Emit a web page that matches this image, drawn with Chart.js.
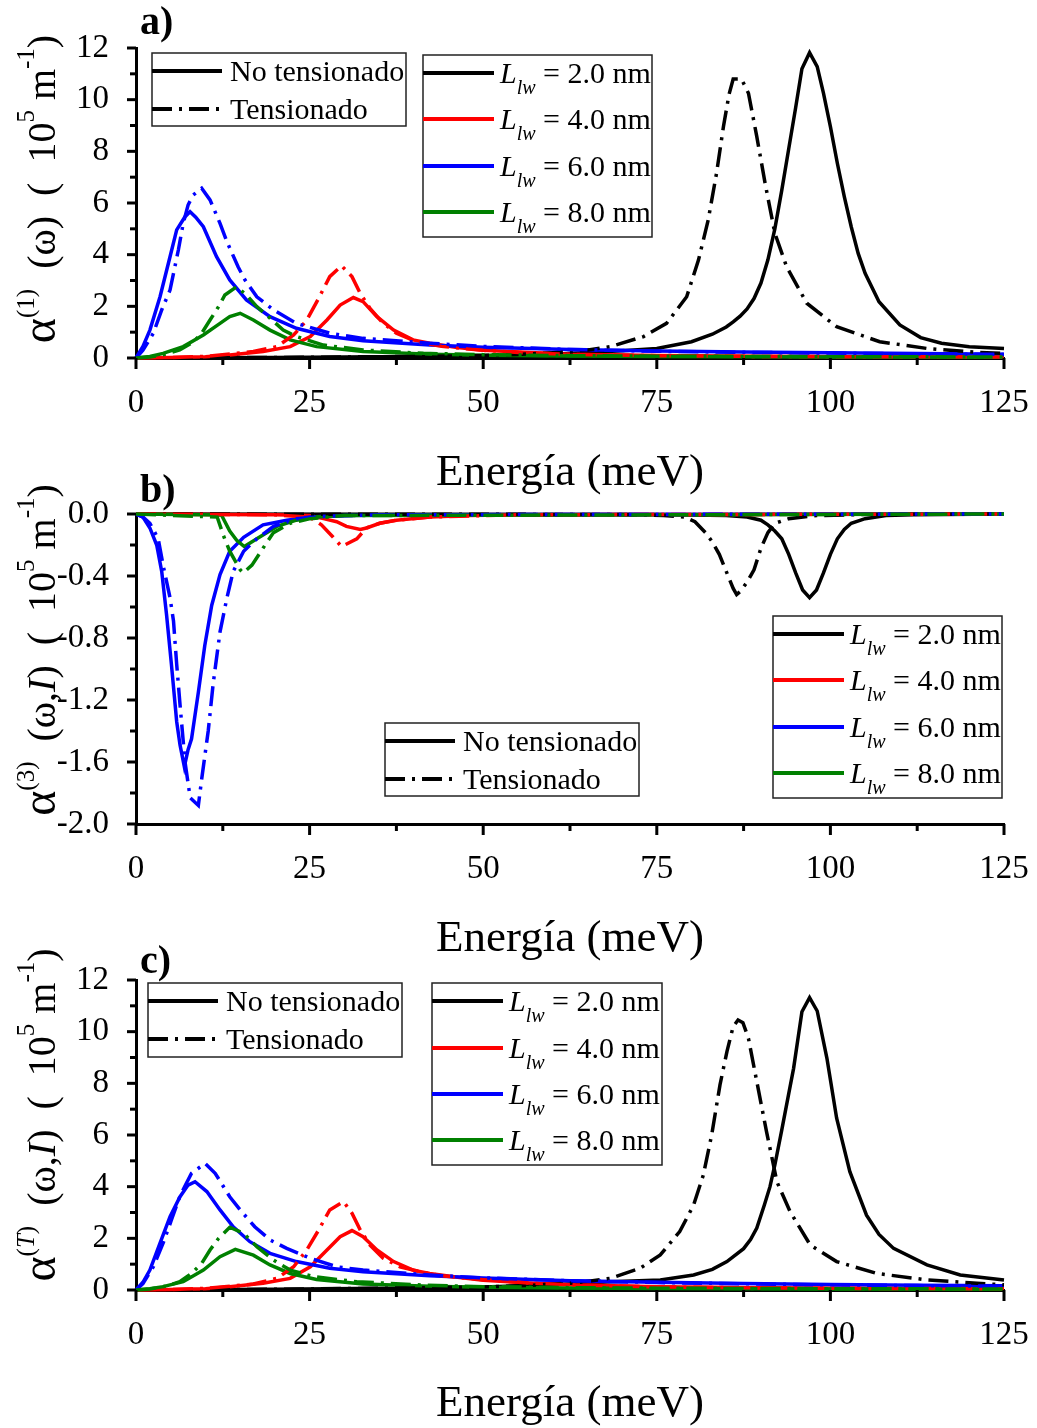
<!DOCTYPE html>
<html>
<head>
<meta charset="utf-8">
<script src="https://cdn.jsdelivr.net/npm/chart.js@4.4.1/dist/chart.umd.min.js"></script>
<style>
  body { margin: 0; background: #fff; }
  #wrap { position: relative; width: 1037px; height: 1428px; }
  canvas { position: absolute; left: 0; }
</style>
</head>
<body>
<div id="wrap">
  <canvas id="pa" width="1037" height="500" style="top:0px"></canvas>
  <canvas id="pb" width="1037" height="505" style="top:460px"></canvas>
  <canvas id="pc" width="1037" height="503" style="top:925px"></canvas>
</div>
<script>
// ---- data (energy in meV, alpha in 10^5 m^-1) ----
const SIZES = ['2.0', '4.0', '6.0', '8.0'];
const STYLE_LABELS = ['No tensionado', 'Tensionado'];
const X_MAJOR = [0, 25, 50, 75, 100, 125];
const X_MINOR = [12.5, 37.5, 62.5, 87.5, 112.5];
const Y_MAJOR_AC = [0, 2, 4, 6, 8, 10, 12];
const Y_MINOR_AC = [1, 3, 5, 7, 9, 11];
const Y_MAJOR_B = [0, -0.4, -0.8, -1.2, -1.6, -2.0];
const Y_MINOR_B = [-0.2, -0.6, -1.0, -1.4, -1.8];

// a) alpha(1)
const A_BLACK_SOLID_E = [0, 20, 40, 50, 60, 65, 70, 75, 80, 83, 85, 86, 87, 88, 89, 90, 91, 92, 93, 94, 95, 95.9, 97, 98.1, 99, 100, 101, 102, 103, 104, 105, 107, 110, 113, 116, 120, 125];
const A_BLACK_SOLID = [0, 0.02, 0.06, 0.09, 0.15, 0.21, 0.28, 0.37, 0.63, 0.92, 1.2, 1.4, 1.62, 1.9, 2.3, 2.9, 3.8, 5.0, 6.5, 8.1, 9.7, 11.2, 11.82, 11.28, 10.25, 8.96, 7.54, 6.25, 5.08, 4.05, 3.28, 2.18, 1.28, 0.79, 0.57, 0.44, 0.37];
const A_BLACK_DASH_E = [0, 20, 40, 50, 55, 60, 63.5, 68.3, 73.1, 76.4, 79.3, 81, 82.4, 83.6, 84.6, 85.4, 86, 87.2, 88.2, 89.4, 90.6, 92, 93.7, 96.6, 100.9, 107.1, 113.9, 121.1, 125];
const A_BLACK_DASH = [0, 0.02, 0.06, 0.1, 0.14, 0.2, 0.25, 0.44, 0.83, 1.34, 2.37, 3.79, 5.34, 7.15, 8.96, 10.2, 10.8, 10.8, 10.25, 8.57, 6.76, 4.83, 3.53, 2.12, 1.21, 0.63, 0.37, 0.22, 0.18];
const A_RED_SOLID_E = [0, 5, 10, 13.5, 18.3, 22.2, 25.1, 27.5, 29.4, 31.3, 32.7, 34.7, 37.1, 39.9, 42.3, 46, 50, 56, 62.5, 75, 90, 105, 125];
const A_RED_SOLID = [0, 0.02, 0.05, 0.12, 0.25, 0.44, 0.83, 1.47, 2.05, 2.34, 2.18, 1.6, 1.08, 0.7, 0.57, 0.42, 0.3, 0.22, 0.15, 0.1, 0.07, 0.05, 0.04];
const A_RED_DASH_E = [0, 5, 10, 16.9, 20.3, 22.7, 24.6, 26.3, 27.9, 29.6, 31.1, 32.3, 33.7, 35.6, 37.5, 40.4, 44, 50, 56, 62.5, 75, 90, 105, 125];
const A_RED_DASH = [0, 0.02, 0.06, 0.25, 0.44, 0.89, 1.47, 2.31, 3.15, 3.57, 3.15, 2.5, 1.92, 1.34, 0.96, 0.63, 0.45, 0.3, 0.2, 0.14, 0.09, 0.06, 0.05, 0.04];
const A_BLUE_SOLID_E = [0, 1, 2, 3.46, 4.9, 5.86, 7.06, 7.78, 8.6, 9.7, 11.6, 13.5, 15.9, 19.3, 23.1, 27.9, 32.7, 42.3, 50, 62.5, 75, 87.5, 100, 112.5, 125];
const A_BLUE_SOLID = [0, 0.45, 1.08, 2.37, 3.92, 4.96, 5.47, 5.66, 5.45, 5.08, 3.92, 3.02, 2.25, 1.6, 1.15, 0.83, 0.67, 0.5, 0.42, 0.33, 0.27, 0.23, 0.2, 0.17, 0.15];
const A_BLUE_DASH_E = [0, 1, 2.5, 3.7, 4.9, 6.1, 6.8, 7.5, 8.2, 9.46, 10.66, 12.1, 13.1, 14.7, 15.7, 17.4, 19.8, 23.1, 27.9, 32.7, 42.3, 50, 62.5, 75, 87.5, 100, 112.5, 125];
const A_BLUE_DASH = [0, 0.3, 0.96, 1.86, 2.63, 4.18, 5.21, 5.92, 6.3, 6.57, 6.12, 5.21, 4.5, 3.53, 3.02, 2.37, 1.86, 1.34, 0.96, 0.76, 0.57, 0.45, 0.33, 0.26, 0.22, 0.19, 0.16, 0.14];
const A_GREEN_SOLID_E = [0, 2, 3.9, 6.8, 9.7, 12.1, 13.5, 15, 16.9, 19.3, 22.2, 26, 32.7, 42.3, 50, 62.5, 75, 100, 125];
const A_GREEN_SOLID = [0, 0.06, 0.18, 0.44, 0.89, 1.34, 1.6, 1.73, 1.47, 1.08, 0.7, 0.44, 0.25, 0.15, 0.11, 0.08, 0.06, 0.04, 0.03];
const A_GREEN_DASH_E = [0, 2, 4.3, 6.3, 8.3, 9.46, 10.66, 11.9, 12.8, 14.5, 15.9, 17.4, 19.3, 21.2, 23.1, 27, 32.7, 41.4, 50, 62.5, 75, 100, 125];
const A_GREEN_DASH = [0, 0.04, 0.15, 0.31, 0.63, 0.96, 1.47, 1.99, 2.44, 2.76, 2.44, 1.99, 1.54, 1.08, 0.83, 0.5, 0.31, 0.18, 0.13, 0.09, 0.07, 0.05, 0.04];

// b) alpha(3)
const B_BLACK_SOLID_E = [0, 75, 85, 88, 90, 91, 92, 93, 94, 95, 96, 97, 98, 99, 100, 101, 102, 103, 105, 108, 112, 125];
const B_BLACK_SOLID = [0, -0.003, -0.01, -0.02, -0.04, -0.07, -0.11, -0.16, -0.26, -0.38, -0.49, -0.54, -0.49, -0.38, -0.26, -0.16, -0.1, -0.06, -0.03, -0.01, -0.005, 0];
const B_BLACK_DASH_E = [0, 70, 76, 79, 80.5, 82, 83, 84, 85, 86, 86.5, 87, 88, 89, 90, 91, 92, 94, 98, 105, 125];
const B_BLACK_DASH = [0, -0.003, -0.01, -0.02, -0.05, -0.12, -0.18, -0.26, -0.37, -0.48, -0.52, -0.5, -0.44, -0.36, -0.22, -0.12, -0.06, -0.03, -0.01, -0.003, 0];
const B_RED_SOLID_E = [0, 10, 20, 25, 27, 28.9, 30.3, 32.3, 33.2, 35.1, 37.5, 42.3, 48, 55, 125];
const B_RED_SOLID = [0, -0.003, -0.005, -0.01, -0.03, -0.05, -0.08, -0.1, -0.09, -0.06, -0.04, -0.02, -0.01, -0.005, 0];
const B_RED_DASH_E = [0, 20, 25, 26.7, 28.4, 29.6, 31.8, 33.2, 35.1, 37.5, 42.3, 55, 125];
const B_RED_DASH = [0, -0.005, -0.02, -0.07, -0.15, -0.21, -0.16, -0.09, -0.06, -0.04, -0.02, -0.005, 0];
const B_BLUE_SOLID_E = [0, 1, 2, 2.98, 3.7, 4.4, 5.1, 5.86, 6.34, 6.96, 7.5, 8, 8.98, 9.9, 10.9, 12.1, 13.5, 15.5, 18.3, 21.7, 25.1, 30, 40, 125];
const B_BLUE_SOLID = [0, -0.02, -0.09, -0.2, -0.37, -0.65, -0.97, -1.34, -1.49, -1.63, -1.52, -1.45, -1.15, -0.85, -0.59, -0.39, -0.24, -0.15, -0.07, -0.04, -0.02, -0.01, -0.005, 0];
const B_BLUE_DASH_E = [0, 1, 2, 3.2, 3.9, 4.9, 5.4, 5.86, 6.34, 7.06, 7.8, 8.98, 9.46, 10.4, 11.1, 12.1, 13.1, 14, 15.5, 17.4, 19.8, 23.1, 27, 35, 125];
const B_BLUE_DASH = [0, -0.02, -0.06, -0.16, -0.33, -0.54, -0.69, -0.97, -1.23, -1.6, -1.83, -1.88, -1.71, -1.4, -1.1, -0.76, -0.54, -0.37, -0.24, -0.16, -0.08, -0.03, -0.015, -0.005, 0];
const B_GREEN_SOLID_E = [0, 12.3, 13.5, 14.5, 15.6, 17.4, 20.3, 23.1, 25.6, 30, 125];
const B_GREEN_SOLID = [0, -0.006, -0.11, -0.17, -0.21, -0.16, -0.08, -0.04, -0.02, -0.01, 0];
const B_GREEN_DASH_E = [0, 11.7, 12.6, 13.5, 15, 15.45, 16.7, 18.3, 19.8, 22.2, 25.1, 30, 125];
const B_GREEN_DASH = [0, -0.02, -0.14, -0.24, -0.36, -0.38, -0.33, -0.22, -0.12, -0.06, -0.03, -0.01, 0];

// c) alpha(T)
const C_BLACK_SOLID_E = [0, 20, 40, 50, 60, 68.3, 75.5, 80.3, 83, 85.1, 87.5, 88.5, 89.4, 90.5, 91.3, 92, 93, 94, 94.7, 95.9, 97, 98.1, 99.5, 100.9, 102.8, 105.2, 107, 109.1, 113.9, 118.7, 125];
const C_BLACK_SOLID = [0, 0.03, 0.08, 0.12, 0.2, 0.32, 0.39, 0.58, 0.8, 1.1, 1.6, 1.95, 2.4, 3.3, 4.0, 4.84, 6.2, 7.6, 8.58, 10.77, 11.32, 10.8, 8.97, 6.65, 4.58, 2.9, 2.15, 1.61, 0.97, 0.58, 0.39];
const C_BLACK_DASH_E = [0, 20, 40, 50, 56, 63.5, 68.3, 72.6, 75.5, 78.3, 80.3, 81.7, 82.9, 84.1, 85.1, 86, 86.7, 87.4, 88.2, 89.4, 90.8, 92.3, 94.2, 97.1, 100.9, 106.7, 113.9, 121.1, 125];
const C_BLACK_DASH = [0, 0.03, 0.08, 0.12, 0.17, 0.28, 0.45, 0.84, 1.36, 2.26, 3.29, 4.45, 6, 7.94, 9.23, 10.2, 10.45, 10.35, 9.74, 8.07, 6.13, 4.19, 3.03, 1.74, 1.1, 0.64, 0.39, 0.26, 0.2];
const C_RED_SOLID_E = [0, 5, 10, 13.5, 18.3, 22.2, 25.1, 27.5, 29.4, 31.1, 32.7, 34.7, 37.1, 39.9, 42.3, 46, 50, 56, 62.5, 75, 90, 105, 125];
const C_RED_SOLID = [0, 0.02, 0.05, 0.13, 0.26, 0.45, 0.9, 1.55, 2.06, 2.3, 2.06, 1.55, 1.1, 0.77, 0.64, 0.5, 0.38, 0.28, 0.2, 0.13, 0.09, 0.07, 0.05];
const C_RED_DASH_E = [0, 5, 10, 16.9, 20.3, 22.7, 24.6, 26.3, 27.9, 29.9, 31.1, 32.3, 33.7, 35.6, 38, 40.9, 44, 50, 56, 62.5, 75, 90, 105, 125];
const C_RED_DASH = [0, 0.02, 0.06, 0.23, 0.45, 0.9, 1.55, 2.32, 3.1, 3.42, 2.97, 2.32, 1.74, 1.23, 0.9, 0.71, 0.55, 0.4, 0.28, 0.2, 0.12, 0.08, 0.06, 0.05];
const C_BLUE_SOLID_E = [0, 1, 2, 3.46, 4.9, 6.34, 7.5, 8.5, 10.2, 12.1, 14, 16.4, 19.3, 23.1, 27.9, 32.7, 42.3, 50, 62.5, 75, 87.5, 100, 112.5, 125];
const C_BLUE_SOLID = [0, 0.3, 0.77, 1.81, 2.84, 3.61, 4.06, 4.19, 3.81, 3.1, 2.45, 1.87, 1.42, 1.1, 0.84, 0.71, 0.55, 0.46, 0.36, 0.3, 0.25, 0.21, 0.18, 0.16];
const C_BLUE_DASH_E = [0, 1, 2.5, 3.9, 5.1, 6.3, 7, 8, 9.94, 11.4, 13.5, 15, 17.1, 19.3, 21.7, 25.1, 28.9, 32.7, 42.3, 50, 62.5, 75, 87.5, 100, 112.5, 125];
const C_BLUE_DASH = [0, 0.25, 0.9, 1.81, 2.71, 3.61, 4, 4.52, 4.9, 4.52, 3.61, 3.1, 2.45, 1.94, 1.61, 1.23, 0.9, 0.77, 0.58, 0.47, 0.36, 0.29, 0.24, 0.2, 0.17, 0.15];
const C_GREEN_SOLID_E = [0, 2, 3.9, 6.8, 9.7, 12.1, 14.3, 16.9, 19.3, 22.2, 26, 32.7, 42.3, 50, 62.5, 75, 100, 125];
const C_GREEN_SOLID = [0, 0.05, 0.13, 0.32, 0.77, 1.29, 1.57, 1.35, 0.97, 0.64, 0.41, 0.23, 0.15, 0.11, 0.08, 0.06, 0.04, 0.03];
const C_GREEN_DASH_E = [0, 2, 4.3, 6.3, 8, 9.46, 10.66, 11.9, 13.5, 15.5, 17.4, 19.8, 22.2, 25.5, 31.8, 41.4, 50, 62.5, 75, 100, 125];
const C_GREEN_DASH = [0, 0.04, 0.15, 0.32, 0.64, 1.03, 1.55, 2, 2.43, 2.19, 1.68, 1.16, 0.77, 0.52, 0.32, 0.19, 0.13, 0.09, 0.07, 0.05, 0.04];

// ---- drawing ----
const SERIF = '"Liberation Serif", "Times New Roman", serif';
const COLORS = ['#000000', '#ff0000', '#0000ff', '#008000'];
const DASHDOT = [20, 7, 3, 7];

function font(size, style, weight) {
  return (style || 'normal') + ' ' + (weight || 'normal') + ' ' + size + 'px ' + SERIF;
}

function pts(xs, ys) {
  return xs.map((x, i) => ({ x: x, y: ys[i] }));
}

function richWidth(ctx, parts) {
  let w = 0;
  parts.forEach(p => { ctx.font = font(p.size, p.style); w += ctx.measureText(p.t).width; });
  return w;
}

function drawRich(ctx, parts, x, y) {
  parts.forEach(p => {
    ctx.font = font(p.size, p.style);
    ctx.fillText(p.t, x, y - (p.rise || 0));
    x += ctx.measureText(p.t).width;
  });
  return x;
}

function lwLabel(size) {
  return [
    { t: 'L', size: 30, style: 'italic' },
    { t: 'lw', size: 20, style: 'italic', rise: -11 },
    { t: ' = ' + size + ' nm', size: 30 }
  ];
}

const decor = {
  id: 'decor',
  afterDraw(chart) {
    const o = chart.config.options.plugins.decor;
    const ctx = chart.ctx;
    const xs = chart.scales.x, ys = chart.scales.y;
    const area = chart.chartArea;
    ctx.save();
    ctx.strokeStyle = '#000';
    ctx.lineWidth = 3;
    ctx.setLineDash([]);
    // tick marks, outward
    const tick = (vals, len, axis) => vals.forEach(v => {
      ctx.beginPath();
      if (axis === 'x') {
        const px = xs.getPixelForValue(v);
        ctx.moveTo(px, area.bottom); ctx.lineTo(px, area.bottom + len);
      } else {
        const py = ys.getPixelForValue(v);
        ctx.moveTo(area.left, py); ctx.lineTo(area.left - len, py);
      }
      ctx.stroke();
    });
    tick(X_MAJOR, 11, 'x');
    tick(X_MINOR, 7, 'x');
    tick(o.yMajor, 9, 'y');
    tick(o.yMinor, 6, 'y');

    ctx.fillStyle = '#000';
    ctx.textBaseline = 'alphabetic';
    // panel letter
    ctx.font = font(40, 'normal', 'bold');
    ctx.textAlign = 'left';
    ctx.fillText(o.letter, 140, o.letterY);
    // x title
    ctx.font = font(45);
    ctx.textAlign = 'center';
    ctx.fillText('Energía (meV)', (area.left + area.right) / 2, o.xTitleY);
    ctx.textAlign = 'left';
    // y title, rotated
    ctx.save();
    ctx.translate(55, o.yTitleC);
    ctx.rotate(-Math.PI / 2);
    const w = richWidth(ctx, o.yTitle);
    drawRich(ctx, o.yTitle, -w / 2, 0);
    ctx.restore();

    // legends
    ctx.lineWidth = 1.5;
    ctx.strokeStyle = '#222';
    const l1 = o.styleLegend, l2 = o.sizeLegend;
    ctx.strokeRect(l1.x, l1.y, l1.w, l1.h);
    ctx.strokeRect(l2.x, l2.y, l2.w, l2.h);
    ctx.lineWidth = 4;
    ctx.strokeStyle = '#000';
    STYLE_LABELS.forEach((lab, i) => {
      const y = l1.rows[i];
      ctx.setLineDash(i === 0 ? [] : DASHDOT);
      ctx.beginPath(); ctx.moveTo(l1.x, y); ctx.lineTo(l1.x + 70, y); ctx.stroke();
      ctx.setLineDash([]);
      ctx.font = font(30);
      ctx.fillText(lab, l1.x + 78, y + 10);
    });
    SIZES.forEach((s, i) => {
      const y = l2.rows[i];
      ctx.strokeStyle = COLORS[i];
      ctx.beginPath(); ctx.moveTo(l2.x, y); ctx.lineTo(l2.x + 71, y); ctx.stroke();
      drawRich(ctx, lwLabel(s), l2.x + 77, y + 10);
    });
    ctx.restore();
  }
};

function makePanel(id, cfg) {
  const canvas = document.getElementById(id);
  const H = canvas.height;
  const datasets = [];
  cfg.series.forEach(s => {
    datasets.push({
      data: pts(s[0], s[1]),
      borderColor: COLORS[s[2]],
      borderWidth: 3.5,
      borderDash: s[3] ? DASHDOT : [],
      pointRadius: 0,
      tension: 0,
      fill: false,
      clip: false,
      order: 100 - datasets.length
    });
  });
  return new Chart(canvas, {
    type: 'line',
    data: { datasets: datasets },
    plugins: [decor],
    options: {
      responsive: false,
      animation: false,
      events: [],
      layout: { padding: { top: cfg.top, right: 33, left: 0, bottom: 0 } },
      plugins: {
        legend: { display: false },
        tooltip: { enabled: false },
        decor: cfg.decor
      },
      scales: {
        x: {
          type: 'linear', min: 0, max: 125,
          grid: { display: false, drawTicks: false },
          border: { display: true, color: '#000', width: 3 },
          ticks: { stepSize: 25, color: '#000', font: { family: SERIF, size: 33 }, padding: 26, maxRotation: 0, autoSkip: false },
          afterFit: s => { s.height = H - cfg.bottom; s.paddingLeft = 0; s.paddingRight = 0; }
        },
        y: {
          type: 'linear', min: cfg.yMin, max: cfg.yMax,
          grid: { display: false, drawTicks: false },
          border: { display: true, color: '#000', width: 3 },
          ticks: { stepSize: cfg.yStep, color: '#000', font: { family: SERIF, size: 33 }, padding: 27, autoSkip: false, callback: cfg.yFmt },
          afterFit: s => { s.width = 136; s.paddingTop = 0; s.paddingBottom = 0; }
        }
      }
    }
  });
}

const SUP = 25, RISE = 21, TT = 40;
const alphaHead = sup => [{ t: 'α', size: 48 }].concat(sup);
const tail = [
  { t: '10', size: TT }, { t: '5', size: SUP, rise: RISE },
  { t: ' m', size: TT }, { t: '-1', size: SUP, rise: RISE }, { t: ')', size: TT }
];

makePanel('pa', {
  top: 48, bottom: 358, yMin: 0, yMax: 12, yStep: 2,
  yFmt: v => String(v),
  series: [
    [A_BLACK_SOLID_E, A_BLACK_SOLID, 0, false],
    [A_RED_SOLID_E, A_RED_SOLID, 1, false],
    [A_BLUE_SOLID_E, A_BLUE_SOLID, 2, false],
    [A_GREEN_SOLID_E, A_GREEN_SOLID, 3, false],
    [A_BLACK_DASH_E, A_BLACK_DASH, 0, true],
    [A_RED_DASH_E, A_RED_DASH, 1, true],
    [A_BLUE_DASH_E, A_BLUE_DASH, 2, true],
    [A_GREEN_DASH_E, A_GREEN_DASH, 3, true]
  ],
  decor: {
    letter: 'a)', letterY: 34, xTitleY: 485, yTitleC: 189,
    yMajor: Y_MAJOR_AC, yMinor: Y_MINOR_AC,
    yTitle: alphaHead([{ t: '(1)', size: SUP, rise: RISE }, { t: '  (ω)  (  ', size: TT }]).concat(tail),
    styleLegend: { x: 152, y: 53, w: 254, h: 73, rows: [71, 109] },
    sizeLegend: { x: 423, y: 55, w: 229, h: 182, rows: [73, 119, 166, 212] }
  }
});

makePanel('pb', {
  top: 54, bottom: 364, yMin: -2, yMax: 0, yStep: 0.4,
  yFmt: v => (Math.abs(v) < 1e-9 ? 0 : v).toFixed(1),
  series: [
    [B_BLACK_SOLID_E, B_BLACK_SOLID, 0, false],
    [B_RED_SOLID_E, B_RED_SOLID, 1, false],
    [B_BLUE_SOLID_E, B_BLUE_SOLID, 2, false],
    [B_GREEN_SOLID_E, B_GREEN_SOLID, 3, false],
    [B_BLACK_DASH_E, B_BLACK_DASH, 0, true],
    [B_RED_DASH_E, B_RED_DASH, 1, true],
    [B_BLUE_DASH_E, B_BLUE_DASH, 2, true],
    [B_GREEN_DASH_E, B_GREEN_DASH, 3, true]
  ],
  decor: {
    letter: 'b)', letterY: 42, xTitleY: 491, yTitleC: 190,
    yMajor: Y_MAJOR_B, yMinor: Y_MINOR_B,
    yTitle: alphaHead([{ t: '(3)', size: SUP, rise: RISE }, { t: '  (ω,', size: TT }, { t: 'I', size: TT, style: 'italic' }, { t: ')  (  ', size: TT }]).concat(tail),
    styleLegend: { x: 385, y: 263, w: 254, h: 73, rows: [281, 319] },
    sizeLegend: { x: 773, y: 156, w: 229, h: 182, rows: [174, 220, 267, 313] }
  }
});

makePanel('pc', {
  top: 55, bottom: 365, yMin: 0, yMax: 12, yStep: 2,
  yFmt: v => String(v),
  series: [
    [C_BLACK_SOLID_E, C_BLACK_SOLID, 0, false],
    [C_RED_SOLID_E, C_RED_SOLID, 1, false],
    [C_BLUE_SOLID_E, C_BLUE_SOLID, 2, false],
    [C_GREEN_SOLID_E, C_GREEN_SOLID, 3, false],
    [C_BLACK_DASH_E, C_BLACK_DASH, 0, true],
    [C_RED_DASH_E, C_RED_DASH, 1, true],
    [C_BLUE_DASH_E, C_BLUE_DASH, 2, true],
    [C_GREEN_DASH_E, C_GREEN_DASH, 3, true]
  ],
  decor: {
    letter: 'c)', letterY: 48, xTitleY: 491, yTitleC: 190,
    yMajor: Y_MAJOR_AC, yMinor: Y_MINOR_AC,
    yTitle: alphaHead([{ t: '(', size: SUP, rise: RISE }, { t: 'T', size: SUP, rise: RISE, style: 'italic' }, { t: ')', size: SUP, rise: RISE }, { t: '  (ω,', size: TT }, { t: 'I', size: TT, style: 'italic' }, { t: ')  (  ', size: TT }]).concat(tail),
    styleLegend: { x: 148, y: 58, w: 254, h: 74, rows: [76, 114] },
    sizeLegend: { x: 432, y: 58, w: 230, h: 182, rows: [76, 123, 169, 215] }
  }
});
</script>
</body>
</html>
